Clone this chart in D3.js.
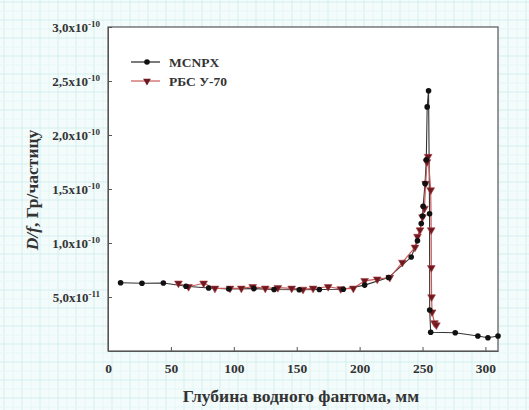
<!DOCTYPE html>
<html><head><meta charset="utf-8">
<script src="https://cdn.jsdelivr.net/npm/d3@7"></script>
<style>body{margin:0;background:#fff}svg{display:block}</style>
</head><body>
<svg id="c" width="529" height="410"></svg>
<script>
// Data (dose in units of 1e-11 Gy/particle)
const mcnpxDepth = [10, 27, 44, 62, 80, 96, 116, 132, 152, 168, 187, 204, 223, 241, 246, 249, 250, 250.5, 252, 253, 253.7, 254.8, 255.6, 255.7, 256.5, 276, 294, 302, 310];
const mcnpxDose  = [6.32, 6.27, 6.3, 6.0, 5.83, 5.74, 5.78, 5.7, 5.67, 5.7, 5.72, 6.1, 6.8, 8.7, 10.2, 11.8, 12.5, 13.4, 15.5, 17.7, 22.6, 24.1, 12.7, 3.8, 1.73, 1.69, 1.39, 1.23, 1.39];
const rbsDepth = [56, 64, 76, 85, 97, 106, 115, 125, 135, 146, 155, 163, 175, 185, 195, 204, 214, 224, 234, 244, 246, 248, 250, 251.5, 252.5, 253.5, 254.5, 256.5, 256.9, 257, 257.2, 257.6, 259.5, 261];
const rbsDose  = [6.27, 5.95, 6.27, 5.8, 5.8, 5.8, 5.95, 5.8, 5.86, 5.8, 5.7, 5.8, 5.95, 5.75, 5.8, 6.5, 6.65, 6.8, 8.2, 9.6, 10.6, 11.2, 12.4, 13.2, 15.5, 17.5, 18.0, 14.9, 11.2, 7.7, 5.0, 3.6, 2.6, 2.4];
const xTicks = [0, 50, 100, 150, 200, 250, 300];
const yTicks = [5, 10, 15, 20, 25, 30];
const yTickLabels = [["5,0x10", "-11"], ["1,0x10", "-10"], ["1,5x10", "-10"], ["2,0x10", "-10"], ["2,5x10", "-10"], ["3,0x10", "-10"]];
const seriesNames = ["MCNPX", "РБС У-70"];

const svg = d3.select("#c");
const W = 529, H = 410;
const m = {l: 108, r: 498, t: 27, b: 351};
const FONT = "'Liberation Serif','Times New Roman',serif";

// graph-paper background
svg.append("rect").attr("width", W).attr("height", H).attr("fill", "#f4fbfb");
const g0 = svg.append("g");
for (let x = 4; x < W; x += 9) g0.append("line").attr("x1", x).attr("x2", x).attr("y1", 0).attr("y2", H)
  .attr("stroke", ((x - 4) / 9) % 2 === 0 ? "#d3efef" : "#e5f6f6").attr("stroke-width", 1);
for (let y = 2; y < H; y += 9) g0.append("line").attr("y1", y).attr("y2", y).attr("x1", 0).attr("x2", W)
  .attr("stroke", ((y - 2) / 9) % 2 === 0 ? "#d3efef" : "#e5f6f6").attr("stroke-width", 1);

const x = d3.scaleLinear().domain([0, 310]).range([m.l, m.r]);
const y = d3.scaleLinear().domain([0, 30]).range([m.b, m.t]);

svg.append("rect").attr("x", m.l).attr("y", m.t).attr("width", m.r - m.l).attr("height", m.b - m.t)
  .attr("fill", "#fff").attr("stroke", "#555").attr("stroke-width", 1.2);

// axes
const xAxis = d3.axisBottom(x).tickValues(xTicks).tickSizeInner(-4).tickSizeOuter(0).tickPadding(12);
const gx = svg.append("g").attr("transform", `translate(0,${m.b})`).call(xAxis);
gx.select(".domain").attr("stroke", "#555");
gx.selectAll(".tick line").attr("stroke", "#555");
gx.selectAll(".tick text").attr("font-family", FONT).attr("font-weight", "bold").attr("font-size", 13.5).attr("fill", "#333");

const yAxis = d3.axisLeft(y).tickValues(yTicks).tickSizeInner(-4).tickSizeOuter(0).tickPadding(8).tickFormat(() => "");
const gy = svg.append("g").attr("transform", `translate(${m.l},0)`).call(yAxis);
gy.select(".domain").attr("stroke", "#555");
gy.selectAll(".tick line").attr("stroke", "#555");
gy.selectAll(".tick text").each(function(d, i) {
  const t = d3.select(this).text(null).attr("font-family", FONT).attr("font-weight", "bold").attr("font-size", 13).attr("fill", "#333");
  t.append("tspan").text(yTickLabels[i][0]);
  t.append("tspan").attr("dy", -5).attr("font-size", 9).text(yTickLabels[i][1]);
});

// series
const mc = mcnpxDepth.map((d, i) => [d, mcnpxDose[i]]);
const rb = rbsDepth.map((d, i) => [d, rbsDose[i]]);
const line = d3.line().x(d => x(d[0])).y(d => y(d[1]));
svg.append("path").datum(mc).attr("d", line).attr("fill", "none").attr("stroke", "#333").attr("stroke-width", 1.1);
svg.append("path").datum(rb).attr("d", line).attr("fill", "none").attr("stroke", "#c85a5a").attr("stroke-width", 1.2);
const tri = d3.symbol().type(d3.symbolTriangle).size(26);
svg.append("g").selectAll("path").data(rb).join("path").attr("d", tri)
  .attr("transform", d => `translate(${x(d[0])},${y(d[1])}) rotate(180)`)
  .attr("fill", "#6e1820").attr("stroke", "#a83a40").attr("stroke-width", 0.6);
svg.append("g").selectAll("circle").data(mc).join("circle")
  .attr("cx", d => x(d[0])).attr("cy", d => y(d[1])).attr("r", 2.8).attr("fill", "#111");

// legend
const lg = svg.append("g");
[0, 1].forEach(i => {
  const yy = 62 + i * 19;
  lg.append("line").attr("x1", 131).attr("x2", 160).attr("y1", yy).attr("y2", yy)
    .attr("stroke", i ? "#c85a5a" : "#222").attr("stroke-width", 1.2);
  if (i === 0) lg.append("circle").attr("cx", 147).attr("cy", yy).attr("r", 2.8).attr("fill", "#111");
  else lg.append("path").attr("d", tri).attr("transform", `translate(147,${yy}) rotate(180)`).attr("fill", "#6e1820");
  lg.append("text").attr("x", 169).attr("y", yy + 4.5).attr("font-family", FONT).attr("font-weight", "bold")
    .attr("font-size", 13.5).attr("fill", "#333").text(seriesNames[i]);
});

// axis titles
svg.append("text").attr("x", 301).attr("y", 402).attr("text-anchor", "middle").attr("font-family", FONT)
  .attr("font-weight", "bold").attr("font-size", 17.5).attr("fill", "#333").text("Глубина водного фантома, мм");
const yt = svg.append("text").attr("transform", "translate(38,190) rotate(-90)").attr("text-anchor", "middle")
  .attr("font-family", FONT).attr("font-weight", "bold").attr("font-size", 17.5).attr("fill", "#333");
yt.append("tspan").attr("font-style", "italic").text("D/f");
yt.append("tspan").text(", Гр/частицу");
</script>
</body></html>
